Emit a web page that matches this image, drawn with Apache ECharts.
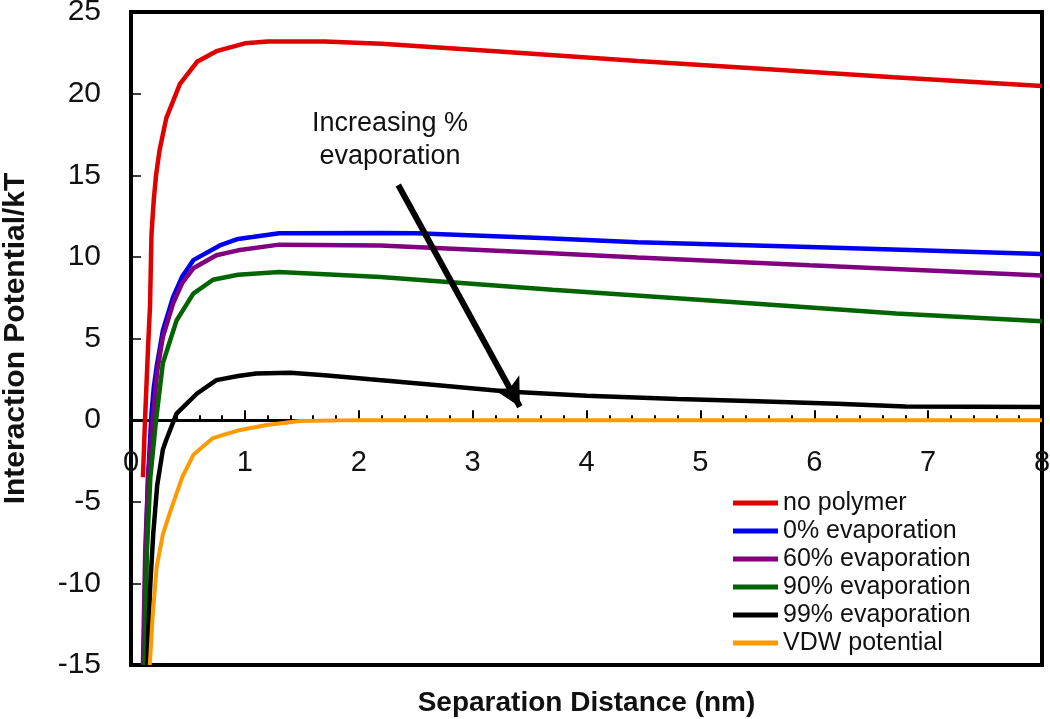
<!DOCTYPE html>
<html>
<head>
<meta charset="utf-8">
<script src="https://cdn.jsdelivr.net/npm/echarts@6/dist/echarts.min.js"></script>
<style>
html,body{margin:0;padding:0;background:#fff;}
#chart{width:1050px;height:719px;}
</style>
</head>
<body>
<div id="chart"></div>
<script>
// ---- data (x in nm, y in kT) ----
var noPolymer = [[0.105,-3.5],[0.123,0],[0.15,4.5],[0.167,7],[0.18,11.4],[0.2,13.5],[0.22,15],[0.25,16.5],[0.31,18.5],[0.43,20.6],[0.58,21.95],[0.75,22.6],[1.0,23.08],[1.2,23.2],[1.7,23.2],[2.2,23.05],[3.3,22.55],[4.45,22.0],[5.6,21.5],[6.7,21.0],[8.0,20.47]];
var evap0 = [[0.11,-15],[0.13,-8],[0.15,-3.5],[0.18,0.4],[0.2,2],[0.226,3.3],[0.28,5.5],[0.37,7.55],[0.45,8.8],[0.547,9.8],[0.78,10.7],[0.94,11.1],[1.3,11.45],[2.2,11.47],[2.5,11.45],[3.6,11.15],[4.45,10.9],[5.96,10.6],[8.0,10.17]];
var evap60 = [[0.105,-15],[0.125,-8],[0.15,-3.5],[0.196,0.4],[0.23,3],[0.28,5.1],[0.37,7.15],[0.45,8.4],[0.547,9.3],[0.75,10.1],[0.94,10.4],[1.3,10.75],[2.19,10.69],[3.6,10.25],[4.45,9.96],[5.96,9.48],[8.0,8.86]];
var evap90 = [[0.12,-15],[0.14,-8],[0.17,-3.5],[0.22,0],[0.28,3.5],[0.4,6.1],[0.547,7.75],[0.72,8.6],[0.94,8.9],[1.3,9.07],[2.19,8.77],[3.7,7.98],[5.21,7.26],[6.72,6.53],[8.0,6.05]];
var evap99 = [[0.145,-15],[0.152,-13],[0.17,-10],[0.196,-6.9],[0.23,-4],[0.28,-1.8],[0.31,-1.2],[0.4,0.4],[0.58,1.63],[0.75,2.45],[0.94,2.7],[1.1,2.85],[1.4,2.9],[1.7,2.75],[2.1,2.5],[2.6,2.2],[3.3,1.75],[4.0,1.5],[4.8,1.3],[5.5,1.15],[6.2,1.0],[6.8,0.83],[8.0,0.8]];
var vdw = [[0.165,-15],[0.19,-12],[0.225,-9],[0.28,-7],[0.34,-5.7],[0.45,-3.5],[0.55,-2.1],[0.72,-1.1],[0.81,-0.9],[0.96,-0.6],[1.19,-0.3],[1.48,-0.05],[2.0,0],[8.0,0]];
var seriesNames = ['no polymer','0% evaporation','60% evaporation','90% evaporation','99% evaporation','VDW potential'];
var seriesColors = ['#e00000','#0000f0','#800080','#006400','#000000','#ff9900'];
var arrowFrom = [2.347,14.4];
var arrowTo = [3.415,0.82];
var annotation = 'Increasing %\nevaporation';

var FONT = '"Liberation Sans", Arial, Helvetica, sans-serif';
var allData = [noPolymer, evap0, evap60, evap90, evap99, vdw];

var chart = echarts.init(document.getElementById('chart'), null, {renderer:'canvas'});
var series = allData.map(function(d, i){
  var s = {
    name: seriesNames[i],
    type: 'line',
    data: d,
    showSymbol: false,
    symbol: 'none',
    smooth: false,
    clip: true,
    lineStyle: {width: i === 5 ? 4 : 4.5, color: seriesColors[i]},
    itemStyle: {color: seriesColors[i]},
    emphasis: {disabled: true},
    z: 3
  };
  if (i === 4) {
    s.markLine = {
      silent: true,
      symbol: ['none','arrow'],
      symbolSize: [22, 28],
      label: {show: false},
      lineStyle: {color: '#000', width: 6, type: 'solid'},
      emphasis: {disabled: true},
      data: [[{coord: arrowFrom}, {coord: arrowTo}]],
      animation: false
    };
  }
  return s;
});

chart.setOption({
  animation: false,
  backgroundColor: '#fff',
  textStyle: {fontFamily: FONT},
  grid: {left: 131, right: 8, top: 12, bottom: 54, show: true, borderColor: '#000', borderWidth: 4, containLabel: false, outerBoundsMode: 'none'},
  legend: {
    orient: 'vertical',
    left: 733, top: 489,
    itemWidth: 45, itemHeight: 5,
    itemGap: 0,
    icon: 'rect',
    backgroundColor: '#fff',
    padding: [0, 0, 0, 0],
    textStyle: {fontFamily: FONT, fontSize: 25, color: '#111', lineHeight: 28},
    data: seriesNames
  },
  xAxis: {
    type: 'value', min: 0, max: 8, interval: 1,
    name: 'Separation Distance (nm)',
    nameLocation: 'middle', nameGap: 24,
    nameTextStyle: {fontFamily: FONT, fontSize: 28, fontWeight: 'bold', color: '#111'},
    axisLine: {show: true, onZero: true, lineStyle: {color: '#000', width: 3}},
    axisTick: {show: true, inside: true, length: 10, lineStyle: {color: '#000', width: 2}},
    minorTick: {show: true, splitNumber: 5, length: 5, lineStyle: {color: '#000', width: 2}},
    axisLabel: {fontFamily: FONT, fontSize: 29, color: '#111', margin: -217},
    splitLine: {show: false}
  },
  yAxis: {
    type: 'value', min: -15, max: 25, interval: 5,
    name: 'Interaction Potential/kT',
    nameLocation: 'middle', nameGap: 100,
    nameTextStyle: {fontFamily: FONT, fontSize: 30, fontWeight: 'bold', color: '#111'},
    axisLine: {show: true, onZero: false, lineStyle: {color: '#000', width: 4}},
    axisTick: {show: true, inside: true, length: 10, lineStyle: {color: '#000', width: 1.5}},
    axisLabel: {fontFamily: FONT, fontSize: 30, color: '#111', margin: 30},
    splitLine: {show: false}
  },
  graphic: [{
    type: 'text',
    x: 390, y: 140,
    z: 10,
    style: {text: annotation, font: '27px ' + FONT, fill: '#111', textAlign: 'center', textVerticalAlign: 'middle', lineHeight: 33}
  }],
  series: series
});
</script>
</body>
</html>
